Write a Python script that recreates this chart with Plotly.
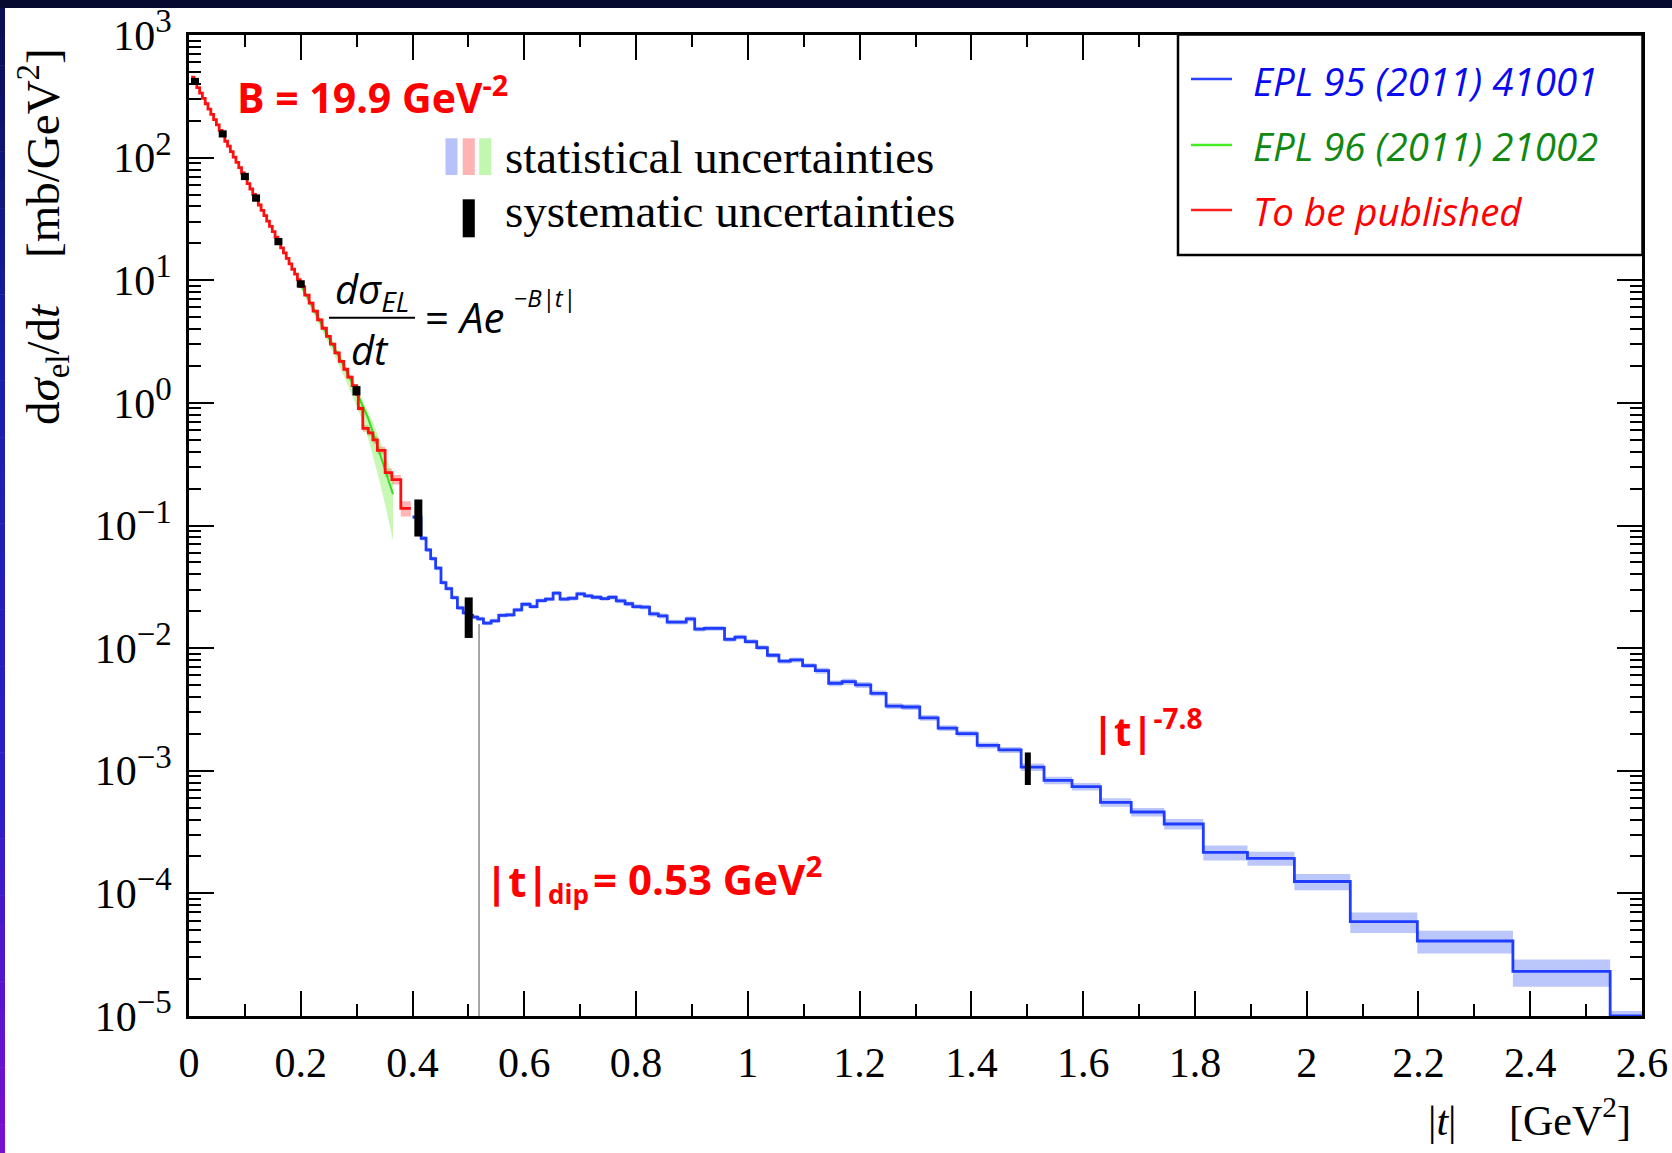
import plotly.graph_objects as go

# ---------------- data ----------------
# red histogram: "To be published"
red_edges = [0.004, 0.009, 0.014, 0.019, 0.024, 0.029, 0.034, 0.039, 0.044, 0.049,
             0.054, 0.059, 0.064, 0.069, 0.074, 0.079, 0.084, 0.089, 0.094, 0.099,
             0.104, 0.109, 0.114, 0.119, 0.124, 0.129, 0.134, 0.139, 0.144, 0.149,
             0.154, 0.159, 0.164, 0.169, 0.174, 0.179, 0.184, 0.189, 0.194, 0.199,
             0.207, 0.215, 0.222, 0.230, 0.238, 0.246, 0.253, 0.261, 0.269, 0.277,
             0.284, 0.292, 0.300, 0.303, 0.311, 0.321, 0.329, 0.337, 0.351, 0.363,
             0.379, 0.397]
red_vals = [454, 411, 372, 336, 304, 275, 249, 225, 204, 185,
            167, 151, 136, 124, 112, 101, 91.5, 82.8, 74.9, 67.7,
            61.3, 55.5, 50.2, 45.4, 41.1, 37.1, 33.6, 30.4, 27.5, 24.9,
            22.5, 20.4, 18.4, 16.7, 15.1, 13.6, 12.3, 11.2, 10.1,
            8.87, 7.55, 6.50, 5.59, 4.76, 4.06, 3.49, 3.01, 2.56, 2.18,
            1.88, 1.62, 1.38,
            1.17, 0.90, 0.62, 0.57, 0.50, 0.41, 0.27, 0.237, 0.138]
red_rel = [0.02, 0.02, 0.02, 0.02, 0.02, 0.02, 0.02, 0.02, 0.02, 0.02,
           0.02, 0.02, 0.02, 0.02, 0.02, 0.02, 0.02, 0.02, 0.02, 0.02,
           0.02, 0.02, 0.02, 0.02, 0.02, 0.02, 0.02, 0.02, 0.02, 0.02,
           0.02, 0.02, 0.02, 0.02, 0.02, 0.02, 0.02, 0.02, 0.02,
           0.03, 0.03, 0.03, 0.03, 0.03, 0.03, 0.03, 0.03, 0.03, 0.03,
           0.03, 0.03, 0.03,
           0.04, 0.05, 0.06, 0.06, 0.07, 0.07, 0.08, 0.09, 0.14]

# blue histogram: "EPL 95 (2011) 41001"
blue_edges = [0.400, 0.4153, 0.4242, 0.4324, 0.4413, 0.4509, 0.4598, 0.4701, 0.4803, 0.4906,
              0.5000, 0.5077, 0.5166, 0.5269, 0.5406, 0.5543, 0.5680, 0.5817, 0.5954, 0.6104,
              0.6228, 0.6378, 0.6515, 0.6639, 0.6789, 0.6940, 0.7077, 0.7214, 0.7371, 0.7508,
              0.7645, 0.7803, 0.7940, 0.8090, 0.8241, 0.8399, 0.8556, 0.8727, 0.8898, 0.9049,
              0.9220, 0.9400, 0.9583, 0.9768, 0.9953, 1.0159, 1.0350, 1.0556, 1.0762, 1.0980,
              1.1207, 1.1446, 1.1686, 1.1926, 1.2200, 1.2474, 1.2761, 1.3076, 1.3405, 1.3740,
              1.4104, 1.4490, 1.4890, 1.5300, 1.5800, 1.6310, 1.6860, 1.7450, 1.8150, 1.8940,
              1.9780, 2.0780, 2.1980, 2.3690, 2.5430, 2.6000]
blue_vals = [0.117, 0.0787, 0.0632, 0.0536, 0.0449, 0.0342, 0.0306, 0.0258, 0.0213, 0.0194,
             0.0185, 0.0179, 0.0173, 0.0160, 0.0167, 0.0185, 0.0187, 0.0205, 0.0228, 0.0218,
             0.0244, 0.0251, 0.0281, 0.0251, 0.0255, 0.0277, 0.0267, 0.0260, 0.0253, 0.0260,
             0.0243, 0.0230, 0.0218, 0.0216, 0.0190, 0.0183, 0.0163, 0.0163, 0.0173, 0.0143,
             0.0145, 0.0145, 0.0118, 0.0123, 0.0113, 0.0101, 0.00875, 0.00782, 0.00801, 0.00720,
             0.00655, 0.00517, 0.00533, 0.00501, 0.00428, 0.00337, 0.00331, 0.00270, 0.00223, 0.00201,
             0.00161, 0.00148, 0.00107, 8.36e-4, 7.42e-4, 5.53e-4, 4.61e-4, 3.68e-4, 2.16e-4, 1.93e-4,
             1.25e-4, 5.88e-5, 4.09e-5, 2.31e-5, 1.0e-5]
blue_rel = [0.04, 0.04, 0.04, 0.04, 0.04, 0.04, 0.04, 0.04, 0.04, 0.04,
            0.04, 0.04, 0.04, 0.04, 0.04, 0.04, 0.04, 0.04, 0.04, 0.04,
            0.04, 0.04, 0.04, 0.04, 0.04, 0.04, 0.04, 0.04, 0.04, 0.04,
            0.045, 0.045, 0.045, 0.045, 0.045, 0.045, 0.045, 0.045, 0.045, 0.045,
            0.045, 0.045, 0.045, 0.045, 0.045, 0.045, 0.045, 0.045, 0.045, 0.045,
            0.055, 0.055, 0.055, 0.055, 0.055, 0.055, 0.055, 0.055, 0.055, 0.055,
            0.055, 0.055, 0.07, 0.07, 0.07, 0.08, 0.08, 0.10, 0.14, 0.13,
            0.15, 0.19, 0.21, 0.25, 0.10]

# green curve: "EPL 96 (2011) 21002"
green_t = [0.200, 0.220, 0.240, 0.260, 0.280, 0.300, 0.310, 0.320, 0.330, 0.340, 0.350, 0.360, 0.365]
green_vals = [9.2, 6.2, 4.2, 2.85, 1.88, 1.22, 0.97, 0.76, 0.56, 0.40, 0.29, 0.21, 0.18]
green_lo = [8.6, 5.7, 3.75, 2.45, 1.55, 0.95, 0.72, 0.52, 0.36, 0.24, 0.155, 0.095, 0.075]
green_hi = [9.7, 6.6, 4.5, 3.05, 2.05, 1.35, 1.08, 0.86, 0.68, 0.52, 0.39, 0.29, 0.25]

# systematic uncertainty bars
sys_t = [0.0107, 0.0603, 0.100, 0.120, 0.160, 0.200, 0.2997, 0.4104, 0.5005, 1.501]
sys_lo = [391, 146, 65.6, 43.7, 19.3, 8.7, 1.15, 0.0813, 0.0121, 7.65e-4]
sys_hi = [447, 167, 75.1, 50.1, 22.1, 10.0, 1.37, 0.163, 0.0259, 1.41e-3]

# dip marker line
dip_t = [0.519, 0.519]
dip_v = [0.0157, 1e-5]

# tick labels
y_tickvals = [1e-5, 1e-4, 1e-3, 1e-2, 1e-1, 1, 10, 100, 1000]
y_exponents = ["\u22125", "\u22124", "\u22123", "\u22122", "\u22121", "0", "1", "2", "3"]

# ---------------- styling helpers ----------------
W, H = 1672, 1153
PL, PR, PT, PB = 189, 1642, 35, 1016


def px(X):
    return (X - PL) / (PR - PL)


def py(Y):
    return (PB - Y) / (PB - PT)


def steps(edges, vals):
    return list(edges), list(vals) + [vals[-1]]


y_ticktext = ['10<sup><span style="font-size:33px">%s</span></sup>' % e for e in y_exponents]

fig = go.Figure()


def add_band(edges, vals, rel, color):
    lo = [v * (1 - e) for v, e in zip(vals, rel)]
    hi = [v * (1 + e) for v, e in zip(vals, rel)]
    x, ylo = steps(edges, lo)
    _, yhi = steps(edges, hi)
    fig.add_trace(go.Scatter(x=x, y=ylo, mode='lines', line=dict(width=0, shape='hv'),
                             hoverinfo='skip'))
    fig.add_trace(go.Scatter(x=x, y=yhi, mode='lines', line=dict(width=0, shape='hv'),
                             fill='tonexty', fillcolor=color, hoverinfo='skip'))


add_band(blue_edges, blue_vals, blue_rel, 'rgba(105,128,245,0.45)')
add_band(red_edges, red_vals, red_rel, 'rgba(255,90,90,0.45)')

# green band (smooth)
fig.add_trace(go.Scatter(x=green_t, y=green_lo, mode='lines', line=dict(width=0), hoverinfo='skip'))
fig.add_trace(go.Scatter(x=green_t, y=green_hi, mode='lines', line=dict(width=0),
                         fill='tonexty', fillcolor='rgba(120,235,70,0.40)', hoverinfo='skip'))
fig.add_trace(go.Scatter(x=green_t, y=green_vals, mode='lines',
                         line=dict(color='#33dd22', width=2)))

bx, by = steps(blue_edges, blue_vals)
fig.add_trace(go.Scatter(x=bx, y=by, mode='lines', line=dict(color='#1f3cff', width=2.8, shape='hv')))
rx, ry = steps(red_edges, red_vals)
fig.add_trace(go.Scatter(x=rx, y=ry, mode='lines', line=dict(color='#ff1010', width=2.8, shape='hv')))

fig.add_trace(go.Scatter(x=dip_t, y=dip_v, mode='lines', line=dict(color='#8a8a8a', width=1.5)))

# systematic bars
fig.add_trace(go.Scatter(
    x=sys_t[:9], y=sys_lo[:9], mode='markers', marker=dict(size=1, opacity=0),
    error_y=dict(type='data', symmetric=False,
                 array=[h - l for h, l in zip(sys_hi[:9], sys_lo[:9])],
                 arrayminus=[0] * 9, color='black', thickness=8, width=0)))
fig.add_trace(go.Scatter(
    x=sys_t[9:], y=sys_lo[9:], mode='markers', marker=dict(size=1, opacity=0),
    error_y=dict(type='data', symmetric=False,
                 array=[h - l for h, l in zip(sys_hi[9:], sys_lo[9:])],
                 arrayminus=[0], color='black', thickness=6, width=0)))

serif = 'Liberation Serif'
sans = 'Open Sans'

axis_common = dict(ticks='inside', tickwidth=2, tickcolor='black', showline=True,
                   linecolor='black', linewidth=2.5, mirror='ticks', showgrid=False,
                   zeroline=False, automargin=False,
                   tickfont=dict(family=serif, size=42, color='black'))

minor_y = []
for d in range(-5, 3):
    for m in range(2, 10):
        minor_y.append(m * 10 ** d)

fig.update_layout(
    width=W, height=H, margin=dict(l=PL, r=W - PR, t=PT, b=H - PB, autoexpand=False),
    paper_bgcolor='white', plot_bgcolor='white', showlegend=False,
    xaxis=dict(range=[0, 2.6], tickmode='linear', tick0=0, dtick=0.2, ticklen=25,
               ticklabelstandoff=8,
               minor=dict(ticks='inside', ticklen=12, tickwidth=2, tickcolor='black',
                          dtick=0.1, tick0=0, showgrid=False),
               **axis_common),
    yaxis=dict(type='log', range=[-5, 3], tickmode='array', tickvals=y_tickvals,
               ticktext=y_ticktext, ticklen=25, ticklabelstandoff=6,
               minor=dict(ticks='inside', ticklen=12, tickwidth=2, tickcolor='black',
                          tickmode='array', tickvals=minor_y, showgrid=False),
               **axis_common),
)

shapes = []
# dark frame: top band
shapes.append(dict(type='rect', xref='paper', yref='paper', x0=px(0), x1=px(W), y0=py(0), y1=py(8),
                   fillcolor='#050a2e', line=dict(width=0), layer='above'))
# left gradient strip
stops = [(0.0, (10, 14, 80)), (0.3, (25, 30, 170)), (0.7, (45, 30, 200)), (1.0, (125, 15, 210))]
nseg = 40
for i in range(nseg):
    f = (i + 0.5) / nseg
    for j in range(len(stops) - 1):
        if stops[j][0] <= f <= stops[j + 1][0]:
            a, ca = stops[j]
            b, cb = stops[j + 1]
            u = (f - a) / (b - a)
            c = tuple(int(ca[k] + (cb[k] - ca[k]) * u) for k in range(3))
            break
    y0 = 8 + (H - 8) * i / nseg
    y1 = 8 + (H - 8) * (i + 1) / nseg
    shapes.append(dict(type='rect', xref='paper', yref='paper', x0=px(0), x1=px(5),
                       y0=py(y0), y1=py(y1 + 0.5), fillcolor='rgb(%d,%d,%d)' % c,
                       line=dict(width=0), layer='above'))

# statistical swatches
for (x0, x1, col) in [(445.5, 457.5, '#b8c2fa'), (462.7, 474.8, '#ffb3b3'), (479.2, 491.3, '#c2f7b0')]:
    shapes.append(dict(type='rect', xref='paper', yref='paper', x0=px(x0), x1=px(x1),
                       y0=py(138.3), y1=py(175), fillcolor=col, line=dict(width=0), layer='above'))
# systematic swatch
shapes.append(dict(type='rect', xref='paper', yref='paper', x0=px(462.7), x1=px(474.8),
                   y0=py(199.3), y1=py(237.3), fillcolor='black', line=dict(width=0), layer='above'))
# fraction bar
shapes.append(dict(type='line', xref='paper', yref='paper', x0=px(329), x1=px(415),
                   y0=py(317.7), y1=py(317.7), line=dict(color='black', width=2), layer='above'))
# legend box
shapes.append(dict(type='rect', xref='paper', yref='paper', x0=px(1178), x1=px(1642.5),
                   y0=py(34.5), y1=py(255), fillcolor='white', line=dict(color='black', width=2.5),
                   layer='above'))
for (yy, col) in [(79, '#2a40ff'), (145, '#44ee22'), (210, '#ff2020')]:
    shapes.append(dict(type='line', xref='paper', yref='paper', x0=px(1191), x1=px(1232),
                       y0=py(yy), y1=py(yy), line=dict(color=col, width=2.5), layer='above'))

fig.update_layout(shapes=shapes)

ann = []


def add_text(text, X, Y, size, family, color='black', xanchor='left', angle=0):
    ann.append(dict(text=text, x=px(X), y=py(Y), xref='paper', yref='paper', showarrow=False,
                    xanchor=xanchor, yanchor='middle', textangle=angle,
                    font=dict(family=family, size=size, color=color)))


red = '#ff0000'
add_text('<b>B = 19.9 GeV<sup>-2</sup></b>', 235, 95, 41, sans, red)
add_text('statistical uncertainties', 503, 157, 47, serif)
add_text('systematic uncertainties', 503, 211, 47, serif)
add_text('<i>dσ<sub>EL</sub></i>', 372, 290, 40, sans, xanchor='center')
add_text('<i>dt</i>', 370, 349, 40, sans, xanchor='center')
add_text('= <i>Ae</i>', 423, 316, 42, sans)
add_text('<i>\u2212B|t|</i>', 512, 297, 24, sans)
add_text('<b>|t|<sup>-7.8</sup></b>', 1090, 728, 40, sans, red)
add_text('<b>|t|</b>', 483, 881, 42, sans, red)
add_text('<b>dip</b>', 546, 894, 26, sans, red)
add_text('<b>= 0.53 GeV<sup>2</sup></b>', 591, 876, 42, sans, red)
# legend texts
add_text('<i>EPL 95 (2011) 41001</i>', 1251, 81, 38.5, sans, '#0a0af0')
add_text('<i>EPL 96 (2011) 21002</i>', 1251, 146, 38.5, sans, '#118811')
add_text('<i>To be published</i>', 1251, 211, 38.5, sans, '#ff0000')
# axis titles
add_text('d<i>σ</i><sub>el</sub>/d<i>t</i>\u00a0\u00a0\u00a0 [mb/GeV<sup>2</sup>]', 43, 237, 47, serif,
         xanchor='center', angle=-90)
add_text('|<i>t</i>|\u00a0\u00a0\u00a0\u00a0 [GeV<sup>2</sup>]', 1633, 1117, 42, serif, xanchor='right')

fig.update_layout(annotations=ann)

fig.write_html('out.html')
